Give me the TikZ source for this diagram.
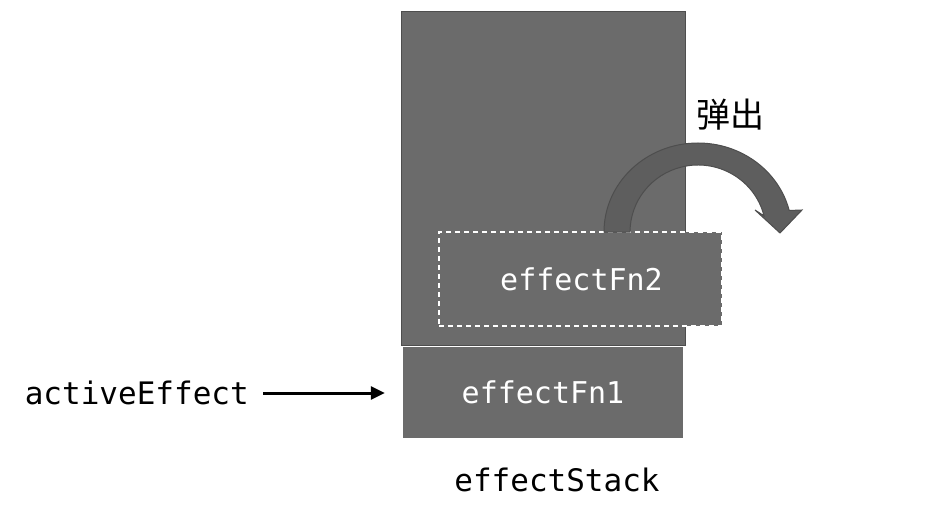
\documentclass[tikz,border=0pt]{standalone}
\usepackage{fontspec}
\setmonofont{DejaVu Sans Mono}
\newfontfamily\cjk{Noto Sans CJK SC}
\usetikzlibrary{arrows.meta}
\definecolor{boxgray}{HTML}{6B6B6B}
\definecolor{edgegray}{HTML}{4E4E4E}
\definecolor{arcgray}{HTML}{5E5E5E}
\tikzset{
  stackbox/.style={draw=edgegray, line width=1pt, fill=boxgray, inner sep=0pt},
  fnbox/.style={fill=boxgray, inner sep=0pt, text=white, font=\ttfamily\fontsize{30}{36}\selectfont},
  lbl/.style={inner sep=0pt, text=black, font=\ttfamily\fontsize{31}{37}\selectfont},
  pointer/.style={line width=3pt, -{Triangle[length=14pt,width=13pt]}},
}
\begin{document}
\begin{tikzpicture}[x=1pt,y=1pt]
\useasboundingbox (0,0) rectangle (938,-532);
% stack container
\node[stackbox, minimum width=284pt, minimum height=333pt] (stack) at (543,-178.5) {};
% effectFn1
\node[fnbox, minimum width=280pt, minimum height=91pt] (fn1) at (543,-392.5) {effectFn1};
% popped effectFn2
\node[fnbox, draw=white, line width=2pt, dash pattern=on 5pt off 4pt,
      minimum width=283pt, minimum height=94pt] (fn2) at (580.5,-279) {\hspace*{2pt}effectFn2};
% curved arrow
\fill[arcgray, draw=edgegray, line width=1pt]
  (604,-232) arc[start angle=180, end angle=14, x radius=94, y radius=89]
  -- (802,-210) -- (780,-233) -- (755,-210) -- (764,-215.8)
  arc[start angle=14, end angle=180, x radius=68, y radius=67] -- cycle;
\node[inner sep=0pt, font=\cjk\fontsize{34}{40}\selectfont] (pop) at (730,-115) {弹出};
% labels
\node[lbl, anchor=east] (ae) at (249,-393) {activeEffect};
\node[lbl] (es) at (557,-480) {effectStack};
\draw[pointer, shorten <=14pt, shorten >=18pt] (ae.east) -- (ae.east -| fn1.west);
\end{tikzpicture}
\end{document}
